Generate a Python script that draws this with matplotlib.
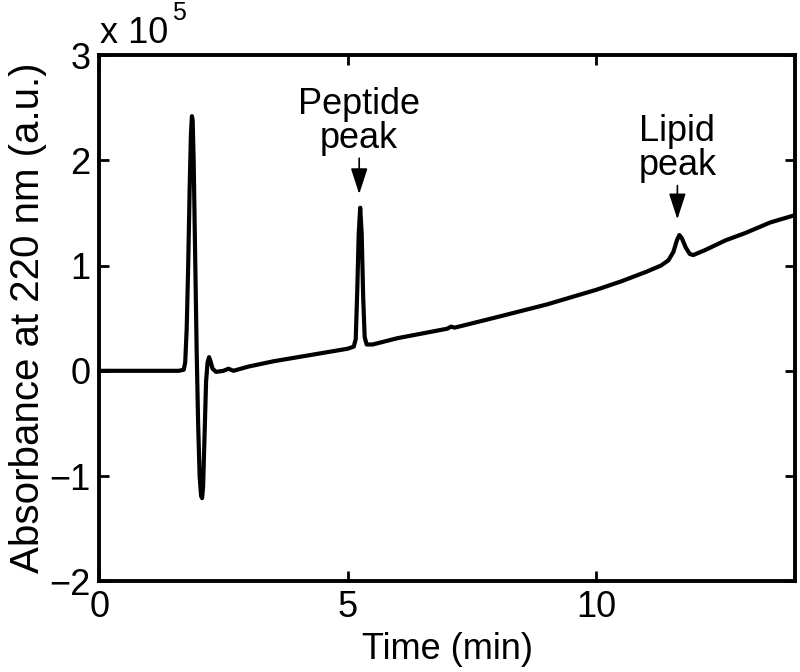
import matplotlib
matplotlib.use("Agg")
import matplotlib.pyplot as plt

plt.rcParams['font.family'] = ['Liberation Sans', 'DejaVu Sans']

# chromatogram (y in units of 1e5)
time_min = [0.0, 1.0, 1.60, 1.70, 1.73, 1.76, 1.79, 1.82, 1.845, 1.865, 1.88, 1.90,
            1.93, 1.96, 1.99, 2.02, 2.05, 2.07, 2.09, 2.12, 2.15, 2.18, 2.21, 2.24,
            2.28, 2.35, 2.50, 2.60, 2.70, 3.00, 3.50, 4.00, 4.50, 5.00, 5.12, 5.16,
            5.19, 5.22, 5.25, 5.28, 5.31, 5.34, 5.38, 5.50, 6.00, 7.00, 7.08, 7.15,
            8.00, 9.00, 10.00, 10.50, 11.00, 11.30, 11.45, 11.55, 11.62, 11.67,
            11.72, 11.80, 11.88, 11.95, 12.20, 12.60, 13.00, 13.50, 14.00]
absorb = [0.0, 0.0, 0.0, 0.01, 0.08, 0.4, 1.0, 1.75, 2.25, 2.42, 2.38, 2.0,
          1.1, 0.2, -0.5, -1.0, -1.19, -1.21, -1.1, -0.6, -0.1, 0.08, 0.13, 0.09,
          0.02, -0.01, 0.0, 0.02, 0.0, 0.04, 0.09, 0.13, 0.17, 0.21, 0.23, 0.3,
          0.75, 1.3, 1.55, 1.3, 0.7, 0.32, 0.25, 0.25, 0.31, 0.40, 0.42, 0.41,
          0.51, 0.63, 0.77, 0.85, 0.94, 1.0, 1.05, 1.13, 1.24, 1.29,
          1.26, 1.17, 1.11, 1.10, 1.15, 1.24, 1.31, 1.41, 1.48]

peak_labels = ['Peptide\npeak', 'Lipid\npeak']
peak_time = [5.23, 11.63]
label_base = [2.12, 1.86]   # baseline of the lower text line
arrow_top = [2.02, 1.76]
arrow_tip = [1.68, 1.44]

fig = plt.figure(figsize=(8, 6.72), dpi=100)
ax = fig.add_axes([0.124, 0.135, 0.870, 0.783])

ax.plot(time_min, absorb, color='black', lw=3)

for lab, t, ly, a0, a1 in zip(peak_labels, peak_time, label_base, arrow_top, arrow_tip):
    ax.text(t, ly, lab, ha='center', va='baseline', fontsize=26, linespacing=0.95)
    ax.annotate('', xy=(t, a1), xytext=(t, a0),
                arrowprops=dict(arrowstyle='-|>,head_length=0.8,head_width=0.26',
                                mutation_scale=20, color='black', lw=1.2,
                                shrinkA=0, shrinkB=0))

ax.set_xlim(0, 14)
ax.set_ylim(-2, 3)
ax.set_xticks([0, 5, 10])
ax.set_yticks([-2, -1, 0, 1, 2, 3])
ax.set_yticklabels(['\u22122', '\u22121', '0', '1', '2', '3'])
ax.tick_params(direction='in', length=7, width=2, labelsize=26, pad=6,
               top=True, right=True)
for s in ax.spines.values():
    s.set_linewidth(2.8)

ax.set_xlabel('Time (min)', fontsize=26, labelpad=5)
ax.set_ylabel('Absorbance at 220 nm (a.u.)', fontsize=29, labelpad=2)

# MATLAB style exponent above the axes
fig.text(100 / 800, 1 - 43 / 672, 'x 10', ha='left', va='baseline', fontsize=26)
fig.text(172 / 800, 1 - 20 / 672, '5', ha='left', va='baseline', fontsize=18)

fig.savefig('out.png', dpi=100)
